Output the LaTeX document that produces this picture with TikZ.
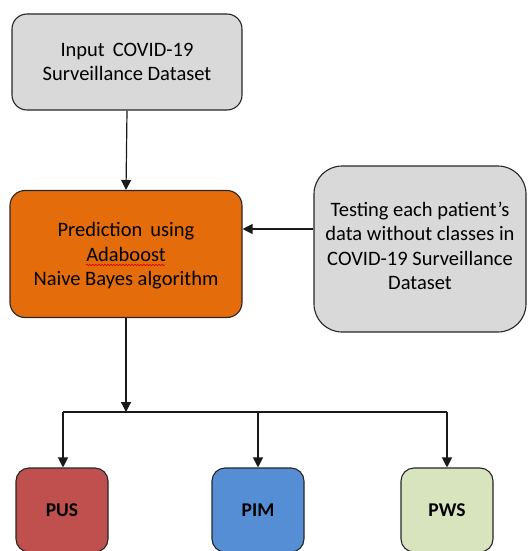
\documentclass[tikz,border=0pt]{standalone}
\usepackage{fontspec}
\setmainfont{Carlito}
\usetikzlibrary{arrows.meta,decorations.pathmorphing}
\definecolor{boxgray}{HTML}{D9D9D9}
\definecolor{boxorange}{HTML}{E46C0A}
\definecolor{boxred}{HTML}{C0504D}
\definecolor{boxblue}{HTML}{558ED5}
\definecolor{boxgreen}{HTML}{D7E4BD}
\tikzset{
  flowbox/.style={draw=black!85, line width=1.1pt, rounded corners=15pt, align=center,
    inner sep=0pt, font=\fontsize{20.5}{24.5}\selectfont},
  boxtext/.style={align=center, inner sep=0pt, font=\fontsize{20.5}{24.5}\selectfont},
  outbox/.style={flowbox, rounded corners=13pt, minimum width=92pt, minimum height=84pt,
    font=\fontsize{19.5}{24}\selectfont\bfseries},
  conn/.style={line width=1.2pt, draw=black!90, -{Triangle[length=10pt,width=10pt]}},
  plain/.style={line width=1.2pt, draw=black!90}
}
\begin{document}
\begin{tikzpicture}[x=1pt,y=-1pt]
\useasboundingbox (0,0) rectangle (528,551);
\clip (0,0) rectangle (528,551);
\node[flowbox, fill=boxgray, minimum width=230pt, minimum height=96pt] (input) at (127,62) {};
\node[boxtext] (inputtext) at (127,62) {Input\, COVID-19\\Surveillance Dataset};
\node[flowbox, fill=boxorange, minimum width=232pt, minimum height=127pt] (pred) at (126,254) {};
\node[boxtext] (predtext) at (126,256) {Prediction\, using\\Adaboost\\Naive Bayes algorithm};
\node[flowbox, fill=boxgray, minimum width=212pt, minimum height=166pt, rounded corners=28pt] (test) at (420,249) {};
\node[boxtext] (testtext) at (420,246) {Testing each patient’s\\data without classes in\\COVID-19 Surveillance\\Dataset};
\node[outbox, fill=boxred] (pus) at (62,510) {PUS};
\node[outbox, fill=boxblue] (pim) at (258,510) {PIM};
\node[outbox, fill=boxgreen] (pws) at (447,510) {PWS};
% spell-check underline
\draw[red!85!black, line width=0.6pt, decorate, decoration={snake, amplitude=0.8pt, segment length=3pt}]
  (86,265) -- (165,265);
\coordinate (split) at (126,412);
\coordinate (jl) at (63,412);
\coordinate (jr) at (447,412);
\draw[conn] (input.south) -- (pred.north);
\draw[conn] (test.west |- 0,229) -- (pred.east |- 0,229);
\draw[conn] (pred.south) -- (split);
\draw[plain] (jl) -- (jr);
\draw[conn] (jl) -- (jl |- pus.north);
\draw[conn] (pim.north |- split) -- (pim.north);
\draw[conn] (jr) -- (pws.north);
\end{tikzpicture}
\end{document}
